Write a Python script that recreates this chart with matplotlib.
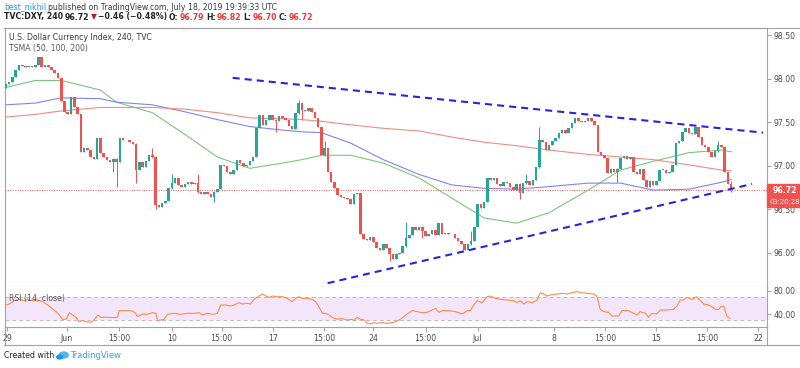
#!/usr/bin/env python
# -*- coding: utf-8 -*-
import sys
import matplotlib
matplotlib.use("Agg")
import matplotlib.pyplot as plt
from matplotlib.patches import Rectangle, Ellipse
from matplotlib.lines import Line2D
import matplotlib.transforms as mtransforms

# ---- data (4h candles, DXY) ----
first_open = 97.89
closes = [
  97.94, 97.96, 98.02, 98.10, 98.16, 98.15, 98.14, 98.15, 98.13, 98.16,
  98.25, 98.14, 98.16, 98.13, 98.10, 98.07, 98.01, 97.74, 97.62, 97.60,
  97.79, 97.67, 97.59, 97.16, 97.20, 97.18, 97.10, 97.08, 97.32, 97.15,
  97.10, 97.07, 97.04, 97.08, 97.04, 97.32, 97.30, 97.29, 97.27, 97.25,
  96.95, 97.04, 96.99, 97.06, 97.12, 97.10, 96.55, 96.53, 96.57, 96.60,
  96.74, 96.80, 96.86, 96.78, 96.76, 96.79, 96.81, 96.79, 96.80, 96.70,
  96.68, 96.70, 96.67, 96.64, 96.70, 96.73, 97.01, 97.00, 96.93, 96.90,
  96.95, 97.07, 97.03, 97.00, 97.01, 97.06, 97.10, 97.43, 97.58, 97.47,
  97.52, 97.58, 97.52, 97.51, 97.57, 97.55, 97.52, 97.46, 97.42, 97.61,
  97.72, 97.64, 97.63, 97.66, 97.62, 97.55, 97.45, 97.12, 97.20, 96.93,
  96.81, 96.74, 96.66, 96.64, 96.63, 96.62, 96.56, 96.68, 96.69, 96.22,
  96.16, 96.15, 96.18, 96.12, 96.06, 96.03, 96.10, 96.05, 95.98, 95.93,
  95.98, 96.00, 96.08, 96.17, 96.20, 96.29, 96.26, 96.30, 96.25, 96.19,
  96.22, 96.26, 96.20, 96.34, 96.21, 96.23, 96.22, 96.21, 96.17, 96.14,
  96.10, 96.03, 96.10, 96.13, 96.30, 96.56, 96.51, 96.58, 96.86, 96.84,
  96.86, 96.79, 96.77, 96.81, 96.80, 96.76, 96.72, 96.79, 96.69, 96.80,
  96.82, 96.78, 96.84, 96.98, 97.30, 97.27, 97.18, 97.24, 97.28, 97.32,
  97.38, 97.41, 97.38, 97.43, 97.49, 97.55, 97.51, 97.50, 97.51, 97.55,
  97.51, 97.47, 97.16, 97.12, 97.09, 96.92, 96.96, 96.93, 96.96, 97.09,
  97.11, 97.08, 97.10, 96.93, 96.90, 96.96, 96.84, 96.75, 96.82, 96.78,
  96.82, 96.95, 96.95, 96.92, 96.93, 97.01, 97.26, 97.28, 97.39, 97.43,
  97.38, 97.36, 97.44, 97.33, 97.24, 97.22, 97.16, 97.10, 97.17, 97.24,
  97.21, 96.93, 96.79, 96.72,
]
# bars with visible wicks: index -> (high, low)
wicks = {
  33: (97.09, 96.93), 34: (97.09, 96.75), 40: (97.26, 96.80), 45: (97.20, 97.09),
  46: (97.11, 96.50), 51: (96.90, 96.73), 59: (96.90, 96.69), 64: (96.71, 96.58),
  83: (97.53, 97.39), 90: (97.76, 97.60), 91: (97.73, 97.53), 98: (97.28, 97.11),
  118: (96.06, 95.91), 123: (96.35, 96.07), 128: (96.31, 96.17), 143: (96.25, 96.09),
  158: (96.80, 96.62), 160: (96.90, 96.79), 164: (97.44, 96.97), 188: (96.97, 96.81),
  219: (97.28, 97.16), 223: (96.82, 96.70),
}

# moving averages (sampled along the bars)
ma_idx = [0, 9, 17, 29, 34, 45, 55, 65, 75, 85, 91, 97, 106, 116, 127, 137,
          147, 157, 167, 179, 189, 199, 210, 220, 223]
sma50 = [97.90, 97.98, 97.98, 97.87, 97.73, 97.61, 97.36, 97.10, 96.97, 97.03,
         97.07, 97.12, 97.12, 97.03, 96.86, 96.63, 96.40, 96.34, 96.46, 96.72,
         96.95, 97.05, 97.15, 97.18, 97.16]
sma100 = [97.70, 97.72, 97.78, 97.77, 97.73, 97.70, 97.62, 97.53, 97.45, 97.41,
          97.39, 97.38, 97.26, 97.07, 96.90, 96.78, 96.74, 96.73, 96.76, 96.80,
          96.80, 96.72, 96.73, 96.81, 96.84]
sma200 = [97.56, 97.59, 97.63, 97.67, 97.67, 97.67, 97.65, 97.61, 97.55, 97.54,
          97.53, 97.51, 97.47, 97.43, 97.40, 97.33, 97.27, 97.23, 97.18, 97.13,
          97.10, 97.07, 97.01, 96.95, 96.94]

# drawn trend lines
upper_x = [69.7, 232.8]
upper_y = [98.01, 97.38]
lower_x = [98.9, 229.4]
lower_y = [95.65, 96.79]

# RSI(14)
rsi_idx = [0, 1.0, 2.6, 4.1, 5.6, 6.7, 8.2, 9.7, 11.3, 12.8, 14.8, 16.4, 17.4, 18.4,
           19.5, 20.5, 21.5, 22.5, 23.5, 24.6, 26.1, 27.1, 28.2, 29.2, 31.2, 33.3,
           34.3, 34.8, 37.4, 38.9, 39.9, 40.4, 42.0, 43.5, 45.0, 46.1, 46.6, 47.6,
           48.6, 49.7, 51.7, 53.7, 55.8, 57.8, 59.4, 60.4, 61.9, 63.0, 64.0, 65.0,
           66.0, 67.6, 69.1, 70.1, 71.7, 72.7, 74.2, 75.2, 76.3, 77.8, 78.8, 79.9,
           80.9, 81.9, 83.4, 85.0, 86.5, 88.0, 89.1, 90.1, 91.1, 92.6, 94.2, 95.2,
           96.2, 97.3, 98.3, 99.3, 100.3, 101.9, 102.9, 104.9, 106.5, 107.0, 108.0,
           109.0, 110.1, 111.1, 112.1, 113.1, 114.1, 115.7, 117.2, 118.8, 119.8,
           121.3, 122.9, 124.9, 126.4, 128.0, 129.5, 131.0, 132.1, 133.1, 134.1,
           136.2, 138.2, 140.3, 141.8, 142.8, 143.8, 144.9, 146.4, 147.9, 148.9,
           150.5, 152.0, 154.1, 156.1, 157.1, 158.2, 159.2, 160.2, 161.8, 163.3,
           164.3, 165.3, 166.4, 167.4, 169.4, 171.5, 172.5, 174.0, 175.6, 177.1,
           178.7, 180.7, 181.7, 182.7, 183.7, 185.3, 186.3, 188.4, 189.4, 191.4,
           193.0, 194.0, 195.0, 196.6, 197.6, 198.6, 200.1, 201.2, 203.2, 205.3,
           206.3, 207.3, 208.3, 209.4, 210.9, 212.4, 213.5, 214.5, 216.0, 217.1,
           218.1, 219.1, 220.1, 220.8, 221.6, 222.6]
rsi_val = [55.5, 57.2, 62.9, 65.2, 62.9, 65.2, 62.9, 64.0, 61.2, 55.5, 46.9, 38.3,
           30.9, 30.9, 42.3, 38.3, 34.3, 26.9, 28.6, 26.9, 25.8, 29.8, 38.3, 34.3,
           34.3, 33.8, 34.3, 45.8, 45.8, 45.2, 41.2, 35.5, 40.1, 39.5, 42.3, 41.2,
           28.6, 29.8, 30.9, 39.5, 41.2, 39.5, 41.2, 41.2, 42.3, 38.3, 41.2, 40.1,
           39.5, 41.2, 55.5, 55.5, 53.8, 55.5, 59.5, 57.2, 58.3, 57.2, 65.2, 70.9,
           74.3, 70.9, 68.6, 70.9, 69.7, 69.7, 66.9, 61.2, 66.9, 69.7, 66.9, 66.9,
           65.2, 61.2, 52.6, 41.2, 41.2, 38.3, 34.3, 30.9, 32.6, 29.8, 30.9, 28.6,
           34.3, 30.9, 29.8, 24.1, 22.9, 25.2, 24.1, 25.2, 24.1, 25.2, 26.9, 30.9,
           38.3, 45.8, 44.1, 42.3, 42.9, 46.9, 49.8, 42.9, 45.8, 45.8, 44.1, 40.1,
           45.8, 45.8, 55.5, 62.9, 59.5, 69.7, 70.9, 66.9, 65.2, 64.0, 62.9, 59.5,
           62.9, 57.2, 61.2, 59.5, 64.0, 76.6, 74.3, 70.9, 72.6, 74.3, 75.5, 74.3,
           76.6, 78.3, 76.6, 75.5, 74.3, 70.9, 48.1, 44.1, 42.9, 36.6, 36.6, 45.8,
           45.8, 41.2, 38.3, 44.1, 41.2, 34.3, 41.2, 40.1, 46.9, 46.9, 48.1, 53.8,
           64.0, 64.0, 68.6, 65.2, 69.7, 62.9, 57.2, 55.5, 52.6, 48.1, 48.1, 53.8,
           52.6, 36.6, 32.6]

# time axis
tick_pos = [0.3, 18.7, 34.7, 51.0, 66.3, 82.0, 97.7, 113.0, 129.0, 145.0,
            168.6, 184.3, 199.9, 215.6, 231.3]
tick_lbl = ["29", "Jun", "15:00", "10", "15:00", "17", "15:00", "24", "15:00",
            "Jul", "8", "15:00", "15", "15:00", "22"]
price_ticks = [96.0, 96.5, 97.0, 97.5, 98.0, 98.5]
last_price = 96.72

W, H = 800, 368
UP, DOWN = "#26a69a", "#ef5350"
FRAME = "#a3a3a3"
TXT = "#4a4a4a"
FS = 5.6


def fig_axes(fig, x0, y0, x1, y1):
  # pixel box (top-left origin) -> axes
  return fig.add_axes([x0 / W, 1 - y1 / H, (x1 - x0) / W, (y1 - y0) / H])


def put_text(fig, x, y, parts, size=FS, gap=1.5):
  # write coloured pieces one after the other on a line, pixel coordinates
  r = fig.canvas.get_renderer()
  for txt, color, weight in parts:
    t = fig.text(x / W, 1 - y / H, txt, color=color, fontsize=size,
                 fontweight=weight, va="center", ha="left")
    x = t.get_window_extent(r).x1 + gap
  return x


def main():
  fig = plt.figure(figsize=(W / 100, H / 100), dpi=100)
  fig.patch.set_facecolor("white")

  ax = fig_axes(fig, 5, 28, 767, 287)
  rsi = fig_axes(fig, 5, 287, 767, 327)

  n = len(closes)
  opens = [first_open] + closes[:-1]

  # candles
  for i in range(n):
    o, c = opens[i], closes[i]
    col = UP if c >= o else DOWN
    hi, lo = wicks.get(i, (max(o, c), min(o, c)))
    ax.vlines(i, lo, hi, color=col, lw=0.7, zorder=3)
    ax.bar(i, max(abs(c - o), 0.008), bottom=min(o, c), width=0.78,
           color=col, lw=0, zorder=3)

  # moving averages
  ax.plot(ma_idx, sma50, color="#7cc67c", lw=0.8, zorder=2)
  ax.plot(ma_idx, sma100, color="#8383f0", lw=0.8, zorder=2)
  ax.plot(ma_idx, sma200, color="#f28b82", lw=0.8, zorder=2)

  # trend lines
  for xs, ys in ((upper_x, upper_y), (lower_x, lower_y)):
    ax.plot(xs, ys, color="#2525dd", lw=1.5, ls=(0, (3.4, 2.4)), zorder=4)

  # last price line
  ax.axhline(last_price, color=DOWN, lw=0.7, ls=(0, (1, 1.5)), zorder=1)

  ax.set_xlim(-0.3, 234)
  ax.set_ylim(95.606, 98.583)
  ax.yaxis.tick_right()
  ax.set_yticks(price_ticks)
  ax.set_yticklabels(["%.2f" % v for v in price_ticks])
  ax.tick_params(axis="y", length=3, color=FRAME, labelsize=FS, labelcolor=TXT, pad=2)
  ax.tick_params(axis="x", bottom=False, labelbottom=False)
  for s in ax.spines.values():
    s.set_color(FRAME)
    s.set_linewidth(0.8)

  ax.text(4 / 762, 1 - 9 / 259, "U.S. Dollar Currency Index, 240, TVC", transform=ax.transAxes,
          fontsize=FS, color="#3a3a3a", va="center")
  ax.text(4 / 762, 1 - 20 / 259, "TSMA (50, 100, 200)", transform=ax.transAxes,
          fontsize=FS, color="#5a5a5a", va="center")

  # price tags on the scale
  tr = mtransforms.blended_transform_factory(ax.transAxes, ax.transData)
  bw = 33 / 762
  ax.add_patch(Rectangle((1.0, last_price - 0.07), bw, 0.14, transform=tr,
                         color=DOWN, clip_on=False, zorder=10))
  ax.text(1.0 + 6 / 762, last_price, "96.72", transform=tr, color="white",
          fontsize=FS, fontweight="bold", va="center", zorder=11, clip_on=False)
  ax.add_patch(Rectangle((1.0, 96.58 - 0.06), bw, 0.12, transform=tr,
                         color=DOWN, clip_on=False, zorder=10))
  ax.text(1.0 + 2 / 762, 96.58, "03:20:28", transform=tr, color="white",
          fontsize=4.9, va="center", zorder=11, clip_on=False)

  # RSI pane
  rsi.axhspan(30, 70, color="#f3e6fb", lw=0, zorder=0)
  rsi.axhline(70, color="#c4b4d4", lw=0.7, ls=(0, (4, 3)))
  rsi.axhline(30, color="#c4b4d4", lw=0.7, ls=(0, (4, 3)))
  rsi.plot(rsi_idx, rsi_val, color="#ff8c42", lw=0.8, zorder=3)
  rsi.set_ylim(17.7, 86.4)
  rsi.set_xlim(-0.3, 234)
  rsi.yaxis.tick_right()
  rsi.set_yticks([40, 80])
  rsi.set_yticklabels(["40.00", "80.00"])
  rsi.tick_params(axis="y", length=3, color=FRAME, labelsize=FS, labelcolor=TXT, pad=2)
  rsi.set_xticks(tick_pos)
  rsi.set_xticklabels(tick_lbl)
  rsi.tick_params(axis="x", length=3, color=FRAME, labelsize=FS, labelcolor=TXT, pad=2)
  for s in rsi.spines.values():
    s.set_color(FRAME)
    s.set_linewidth(0.8)
  rsi.spines["top"].set_visible(False)
  rsi.text(4 / 762, 0.72, "RSI (14, close)", transform=rsi.transAxes,
           fontsize=FS, color="#5a5a5a", va="center")

  # outer frame of the chart
  def fline(x0, y0, x1, y1):
    fig.add_artist(Line2D([x0 / W, x1 / W], [1 - y0 / H, 1 - y1 / H],
                          color=FRAME, lw=0.8))
  fline(4, 27.5, 800, 27.5)
  fline(4, 345, 800, 345)
  fline(5, 327, 5, 345)
  fline(767, 327, 767, 345)

  # header
  put_text(fig, 4, 7, [("best_nikhil", "#2196f3", "normal"),
                       ("published on TradingView.com, July 18, 2019 19:39:33 UTC", "#3a3a3a", "normal")])
  red = "#e53935"
  put_text(fig, 4, 17, [("TVC:DXY, 240", "#222222", "bold"),
                        ("96.72", "#222222", "bold"),
                        ("\u25bc", "#b71c1c", "bold"),
                        ("\u22120.46 (\u22120.48%)", "#222222", "bold"),
                        ("O:", "#222222", "bold"), ("96.79", red, "bold"),
                        ("H:", "#222222", "bold"), ("96.82", red, "bold"),
                        ("L:", "#222222", "bold"), ("96.70", red, "bold"),
                        ("C:", "#222222", "bold"), ("96.72", red, "bold")])

  # footer: "Created with" + logo + TradingView
  x = put_text(fig, 4, 356, [("Created with", "#222222", "normal")])
  fig.add_artist(Ellipse(((x + 8) / W, 1 - 355 / H), 9 / W, 6 / H, color="#5ab4ec"))
  fig.add_artist(Ellipse(((x + 4) / W, 1 - 357 / H), 6 / W, 4 / H, color="#2196f3"))
  fig.text((x + 14) / W, 1 - 356 / H, "TradingView", fontsize=FS + 0.4,
           color="#2ea3ef", va="center")

  plt.savefig("out.png", dpi=100)


if __name__ == "__main__":
  sys.exit(main())
